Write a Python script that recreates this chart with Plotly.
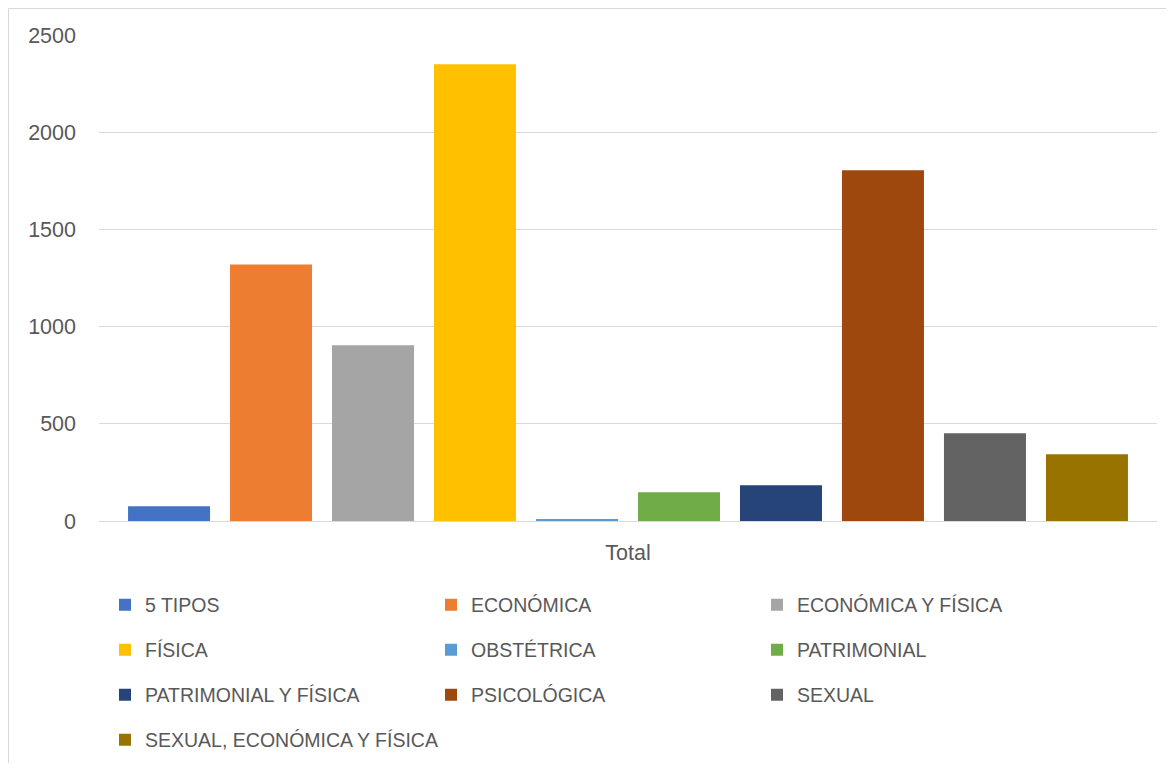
import plotly.graph_objects as go

categories = ["5 TIPOS", "ECONÓMICA", "ECONÓMICA Y FÍSICA", "FÍSICA", "OBSTÉTRICA",
              "PATRIMONIAL", "PATRIMONIAL Y FÍSICA", "PSICOLÓGICA", "SEXUAL",
              "SEXUAL, ECONÓMICA Y FÍSICA"]
values = [76, 1320, 904, 2349, 6, 148, 184, 1804, 451, 343]
colors = ["#4472C4", "#ED7D31", "#A5A5A5", "#FFC000", "#5B9BD5",
          "#70AD47", "#264478", "#9E480E", "#636363", "#997300"]
x_label = ["Total"]
y_ticks = [0, 500, 1000, 1500, 2000, 2500]

OFF = 8  # page body margin
W, H = 1174 - 2 * OFF, 771 - 2 * OFF
FONT = "Liberation Sans"
TXT = "#595959"

fig = go.Figure()
legend_names = ["legend", "legend2", "legend3", "legend4"]
for i, (name, v, c) in enumerate(zip(categories, values, colors)):
    fig.add_trace(go.Bar(
        x=x_label, y=[v], name=name, marker=dict(color=c, line=dict(width=0)),
        legend=legend_names[i // 3],
    ))

row_y = [605, 650, 695, 740]
legend_common = dict(
    orientation="h", xref="container", yref="container",
    x=(105 - OFF) / W, xanchor="left", yanchor="middle",
    font=dict(family=FONT, size=19.5, color=TXT),
    entrywidth=281, entrywidthmode="pixels",
    bgcolor="rgba(0,0,0,0)", borderwidth=0,
    itemclick=False, itemdoubleclick=False,
)
layout_legends = {}
for k, ln in enumerate(legend_names):
    layout_legends[ln] = dict(legend_common, y=1 - (row_y[k] - OFF) / H)
layout_legends["legend4"]["entrywidth"] = 500

L, R, T, B = 99 - OFF, 1157 - OFF, 35 - OFF, 521 - OFF
fig.update_layout(
    width=W, height=H,
    margin=dict(l=L, r=W - R, t=T, b=H - B, pad=0),
    paper_bgcolor="white", plot_bgcolor="white",
    barmode="group", bargap=0.036, bargroupgap=0.196,
    showlegend=True,
    font=dict(family=FONT, color=TXT),
    xaxis=dict(
        type="category", showgrid=False, showline=True, linecolor="#D9D9D9", linewidth=1,
        tickfont=dict(family=FONT, size=21.5, color=TXT), ticks="", ticklabelstandoff=12,
        fixedrange=True,
    ),
    yaxis=dict(
        range=[0, 2500], tickvals=y_ticks, showgrid=True, gridcolor="#D9D9D9", gridwidth=1,
        zeroline=False, showline=False, ticks="",
        tickfont=dict(family=FONT, size=21.5, color=TXT), ticklabelstandoff=22,
        fixedrange=True,
    ),
    shapes=[dict(type="rect", xref="paper", yref="paper",
                 x0=(0.5 - L) / (R - L), x1=(1300 - L) / (R - L),
                 y0=(B - 900) / (B - T), y1=(B - 0.5) / (B - T),
                 line=dict(color="#D9D9D9", width=1), fillcolor="rgba(0,0,0,0)",
                 layer="below")],
    **layout_legends,
)

fig.write_html("out.html")
